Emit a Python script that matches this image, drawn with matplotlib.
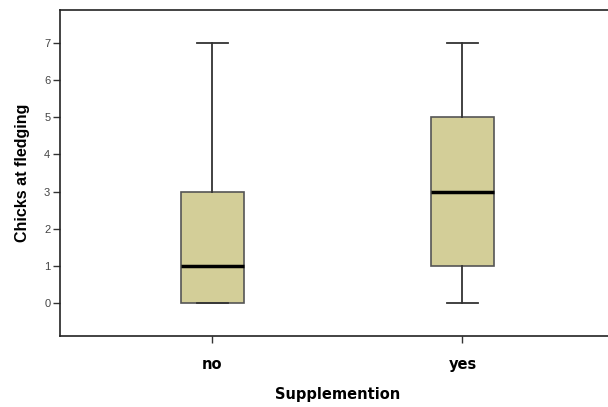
import matplotlib
matplotlib.use("Agg")
import matplotlib.pyplot as plt

categories = ["no", "yes"]
mins = [0, 0]
q1s = [0, 1]
medians = [1, 3]
q3s = [3, 5]
maxs = [7, 7]
yticks = [0, 1, 2, 3, 4, 5, 6, 7]

fig = plt.figure(figsize=(6.08, 4.07), dpi=100)
ax = fig.add_axes([60/608, 71/407, 555/608, 326/407])

stats = []
for c, lo, a, m, b, hi in zip(categories, mins, q1s, medians, q3s, maxs):
    stats.append(dict(label=c, whislo=lo, q1=a, med=m, q3=b, whishi=hi, fliers=[]))

ax.bxp(stats, positions=[1, 2], widths=0.25, patch_artist=True, showfliers=False,
       boxprops=dict(facecolor="#D3CE98", edgecolor="#555555", linewidth=1.2),
       medianprops=dict(color="black", linewidth=2.5),
       whiskerprops=dict(color="#333333", linewidth=1.3),
       capprops=dict(color="#333333", linewidth=1.3),
       capwidths=0.125)

ax.set_xlim(0.39, 2.61)
ax.set_ylim(-0.9, 7.9)
ax.set_yticks(yticks)
ax.set_yticklabels([str(v) for v in yticks], fontsize=8, color="#444444",
                   family="Liberation Sans")
ax.set_xticks([1, 2])
ax.set_xticklabels(categories, fontsize=10.5, fontweight="bold", family="DejaVu Sans")
ax.tick_params(axis="both", length=5, width=1, color="#333333")
ax.tick_params(axis="x", pad=10)
ax.tick_params(axis="y", pad=2)
for s in ax.spines.values():
    s.set_linewidth(1.2)
    s.set_color("#222222")

ax.set_xlabel("Supplemention", fontsize=10.5, fontweight="bold", family="DejaVu Sans", labelpad=11)
ax.set_ylabel("Chicks at fledging", fontsize=11.5, fontweight="bold", family="Liberation Sans", labelpad=10)

fig.savefig("out.png", dpi=100)
